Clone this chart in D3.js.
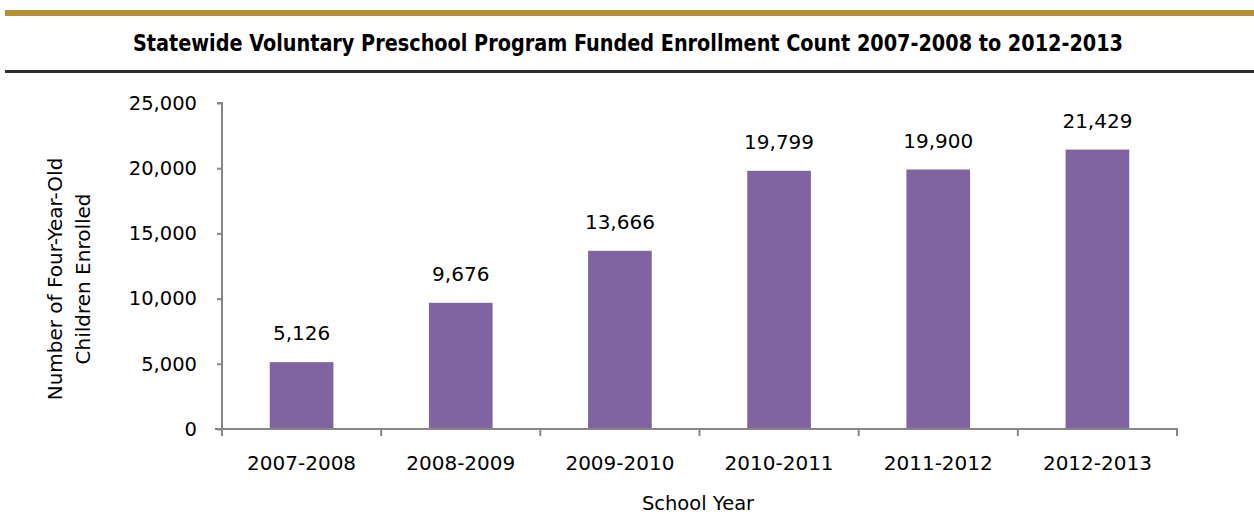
<!DOCTYPE html>
<html>
<head>
<meta charset="utf-8">
<script src="https://cdn.jsdelivr.net/npm/d3@7"></script>
<style>
  html, body { margin: 0; padding: 0; background: #fff; }
  svg { display: block; }
  text { font-family: "DejaVu Sans", sans-serif; fill: #000; }
</style>
</head>
<body>
<svg id="chart" width="1254" height="514"></svg>
<script>
// Enrollment counts by school year
const years = ["2007-2008", "2008-2009", "2009-2010", "2010-2011", "2011-2012", "2012-2013"];
const enrolled = [5126, 9676, 13666, 19799, 19900, 21429];
const yTicks = [0, 5000, 10000, 15000, 20000, 25000];

const title = "Statewide Voluntary Preschool Program Funded Enrollment Count 2007-2008 to 2012-2013";
const yLabelLines = ["Number of Four-Year-Old", "Children Enrolled"];
const xLabel = "School Year";

const svg = d3.select("#chart");
const W = 1254, H = 514;
const plot = { left: 222, right: 1177, top: 103, bottom: 429 };

// Header rules
svg.append("rect").attr("x", 5).attr("y", 10).attr("width", W - 5).attr("height", 6).attr("fill", "#B8912F");
svg.append("rect").attr("x", 5).attr("y", 70).attr("width", W - 5).attr("height", 3).attr("fill", "#2E2E2E");

svg.append("text")
  .attr("x", 628).attr("y", 51)
  .attr("text-anchor", "middle")
  .attr("font-weight", "bold")
  .attr("font-size", 23)
  .attr("fill", "#222")
  .style("font-family", "'Liberation Sans Narrow', 'DejaVu Sans Condensed', 'Liberation Sans', sans-serif")
  .attr("textLength", 990)
  .attr("lengthAdjust", "spacingAndGlyphs")
  .text(title);

const x = d3.scaleBand().domain(years).range([plot.left, plot.right]).paddingInner(0.6).paddingOuter(0.3);
const xb = d3.scaleBand().domain(years).range([plot.left, plot.right]);
const y = d3.scaleLinear().domain([0, 25000]).range([plot.bottom, plot.top]);

const axisColor = "#868686";

// Y axis
const yAxis = svg.append("g")
  .attr("transform", `translate(${plot.left},0)`)
  .call(d3.axisLeft(y).tickValues(yTicks).tickSize(5).tickPadding(20).tickFormat(d3.format(",")));
yAxis.select(".domain").attr("stroke", axisColor).attr("stroke-width", 2).attr("d", `M-5,${plot.top}H0V${plot.bottom + 7}`);
yAxis.selectAll(".tick line").attr("stroke", axisColor).attr("stroke-width", 2);
yAxis.selectAll(".tick text").attr("font-size", 19.5).attr("fill", "#000").attr("font-family", "DejaVu Sans, sans-serif");

// Bars
svg.append("g").selectAll("rect")
  .data(years)
  .join("rect")
  .attr("x", d => x(d))
  .attr("y", (d, i) => y(enrolled[i]))
  .attr("width", x.bandwidth())
  .attr("height", (d, i) => y(0) - y(enrolled[i]))
  .attr("fill", "#8064A2");

// X axis with ticks at category boundaries
const xg = svg.append("g").attr("transform", `translate(0,${plot.bottom})`);
xg.append("line").attr("x1", plot.left - 7).attr("x2", plot.right + 1)
  .attr("stroke", axisColor).attr("stroke-width", 2);
const bounds = years.map(d => xb(d)).concat([plot.right]);
xg.selectAll("line.tk").data(bounds).join("line").attr("class", "tk")
  .attr("x1", d => d).attr("x2", d => d).attr("y1", 0).attr("y2", 7)
  .attr("stroke", axisColor).attr("stroke-width", 2);
xg.selectAll("text").data(years).join("text")
  .attr("x", d => xb(d) + xb.bandwidth() / 2)
  .attr("y", 41)
  .attr("text-anchor", "middle")
  .attr("font-size", 20)
  .text(d => d);

// Value labels
svg.append("g").selectAll("text")
  .data(years)
  .join("text")
  .attr("x", d => x(d) + x.bandwidth() / 2)
  .attr("y", (d, i) => y(enrolled[i]) - 22)
  .attr("text-anchor", "middle")
  .attr("font-size", 20)
  .text((d, i) => d3.format(",")(enrolled[i]));

// Axis titles
svg.append("text")
  .attr("x", 698).attr("y", 510)
  .attr("text-anchor", "middle").attr("font-size", 19.5)
  .text(xLabel);

const yl = svg.append("text")
  .attr("transform", "translate(69,279) rotate(-90)")
  .attr("text-anchor", "middle").attr("font-size", 20);
yLabelLines.forEach((t, i) => {
  yl.append("tspan").attr("x", 0).attr("y", i === 0 ? -7 : 21).text(t);
});
</script>
</body>
</html>
